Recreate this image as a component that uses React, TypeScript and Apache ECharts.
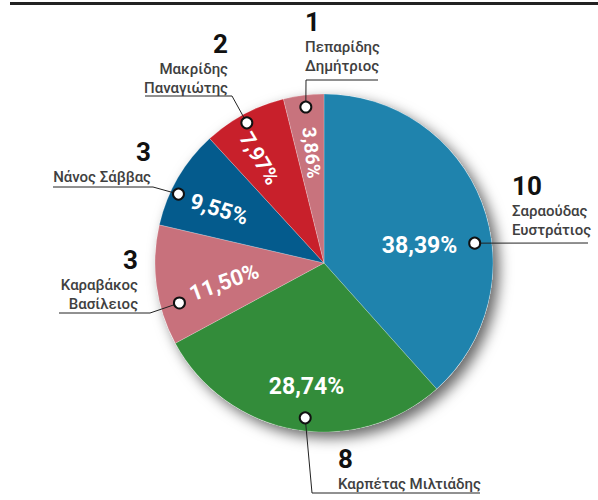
import React, { useEffect, useRef } from 'react';
import * as echarts from 'echarts';

// ---- data ----
const firstNames = ['Σαραούδας', 'Καρπέτας Μιλτιάδης', 'Καραβάκος', 'Νάνος Σάββας', 'Μακρίδης', 'Πεπαρίδης'];
const secondNames = ['Ευστράτιος', '', 'Βασίλειος', '', 'Παναγιώτης', 'Δημήτριος'];
const seats = [10, 8, 3, 3, 2, 1];
const shares = [38.39, 28.74, 11.5, 9.55, 7.97, 3.86];

// ---- styles / layout ----
const colors = ['#1f83ad', '#338c3a', '#c8717c', '#045b8d', '#c8202b', '#c8737d'];
const CX = 324;
const CY = 263;
const R = 169;
const pctRotate = [0, 0, 20, -17, -59, -84];
const pctSize = [23, 23, 22, 22, 21, 19];
const pctNudge: [number, number][] = [[-10, 23], [2, 12], [10, 8], [-6, 5], [-10, 7], [2, -1]];
const dotAngleNudge = [13.4, -3, -7.8, -4.9, -0.6, 0.3];
const dotRadius = [152, 156, 150, 161, 160, 157];
const calloutPath: [number, number][][] = [
  [[588, 243]],
  [[312, 493], [480, 493]],
  [[150, 313], [59, 313]],
  [[153, 187], [53, 187]],
  [[232, 96], [145, 96]],
  [[306, 80], [378, 80]],
];
const calloutText: { x: number; align: 'left' | 'right'; numY: number }[] = [
  { x: 512, align: 'left', numY: 186 },
  { x: 338, align: 'left', numY: 459 },
  { x: 138, align: 'right', numY: 260 },
  { x: 151, align: 'right', numY: 152 },
  { x: 228, align: 'right', numY: 44 },
  { x: 305, align: 'left', numY: 22 },
];

const NUM_LH = 30;
const NAME_LH = 19;

function fmtPct(v: number) {
  return v.toFixed(2).replace('.', ',') + '%';
}

export default function App() {
  const ref = useRef<HTMLDivElement>(null);
  useEffect(() => {
    document.body.style.margin = '0';
    if (!ref.current) return;
    const chart = echarts.init(ref.current, null, { renderer: 'svg' });

    const total = shares.reduce((a, b) => a + b, 0);
    let cum = 0;
    const mids = shares.map((s) => {
      const m = ((cum + s / 2) / total) * 360;
      cum += s;
      return m;
    });

    const graphics: any[] = [
      { type: 'rect', shape: { x: 10, y: 2, width: 588, height: 3 }, style: { fill: '#222' }, z: 10 },
    ];
    shares.forEach((_, i) => {
      const a = ((mids[i] + dotAngleNudge[i]) * Math.PI) / 180;
      const dx = CX + dotRadius[i] * Math.sin(a);
      const dy = CY - dotRadius[i] * Math.cos(a);
      graphics.push({
        type: 'polyline',
        shape: { points: [[dx, dy], ...calloutPath[i]] },
        style: { stroke: '#222', lineWidth: 1, fill: null },
        z: 20,
      });
      graphics.push({
        type: 'circle',
        shape: { cx: dx, cy: dy, r: 5.5 },
        style: { fill: '#fff', stroke: '#111', lineWidth: 2 },
        z: 21,
      });
      const t = calloutText[i];
      const names = [firstNames[i], secondNames[i]].filter((n) => n);
      const text = [`{n|${seats[i]}}`, ...names.map((n) => `{t|${n}}`)].join('\n');
      graphics.push({
        type: 'text',
        x: t.x,
        y: t.numY - NUM_LH / 2,
        style: {
          text,
          x: 0,
          y: 0,
          textAlign: t.align,
          align: t.align,
          textVerticalAlign: 'top',
          verticalAlign: 'top',
          rich: {
            n: {
              fontFamily: 'Roboto, "Liberation Sans", sans-serif',
              fontWeight: 'bold',
              fontSize: 26,
              lineHeight: NUM_LH,
              fill: '#111',
              color: '#111',
              align: t.align,
            },
            t: {
              fontFamily: 'Roboto, "Liberation Sans", sans-serif',
              fontWeight: 500,
              fontSize: 15,
              lineHeight: NAME_LH,
              fill: '#404040',
              color: '#404040',
              align: t.align,
            },
          },
        },
        z: 20,
      });
    });

    chart.setOption({
      animation: false,
      graphic: graphics,
      series: [
        {
          type: 'pie',
          silent: true,
          center: [CX, CY],
          radius: [0, R],
          data: [{ value: 1 }],
          itemStyle: {
            color: '#ffffff',
            shadowBlur: 14,
            shadowOffsetX: 6,
            shadowOffsetY: 6,
            shadowColor: 'rgba(0,0,0,0.6)',
          },
          label: { show: false },
          labelLine: { show: false },
          z: 1,
        },
        {
          type: 'pie',
          silent: true,
          center: [CX, CY],
          radius: [0, R],
          startAngle: 90,
          clockwise: true,
          avoidLabelOverlap: false,
          data: shares.map((v, i) => ({ value: v, name: firstNames[i], itemStyle: { color: colors[i] } })),
          itemStyle: { borderColor: 'rgba(255,255,255,0.35)', borderWidth: 0.6 },
          label: { show: false },
          labelLine: { show: false },
          z: 2,
        },
        {
          type: 'pie',
          silent: true,
          center: [CX, CY],
          radius: [0, 220],
          startAngle: 90,
          clockwise: true,
          avoidLabelOverlap: false,
          data: shares.map((v, i) => ({
            value: v,
            name: firstNames[i],
            label: { rotate: pctRotate[i], fontSize: pctSize[i] },
          })),
          itemStyle: { color: 'rgba(0,0,0,0)' },
          label: {
            show: true,
            position: 'inside',
            color: '#fff',
            fontWeight: 'bold',
            fontFamily: 'Roboto, "Liberation Sans", sans-serif',
            formatter: (p: any) => fmtPct(p.value),
          },
          labelLine: { show: false },
          labelLayout: (p: any) => ({ dx: pctNudge[p.dataIndex][0], dy: pctNudge[p.dataIndex][1] }),
          z: 3,
        },
      ],
    });
    return () => chart.dispose();
  }, []);
  return <div ref={ref} style={{ width: 598, height: 500 }} />;
}
